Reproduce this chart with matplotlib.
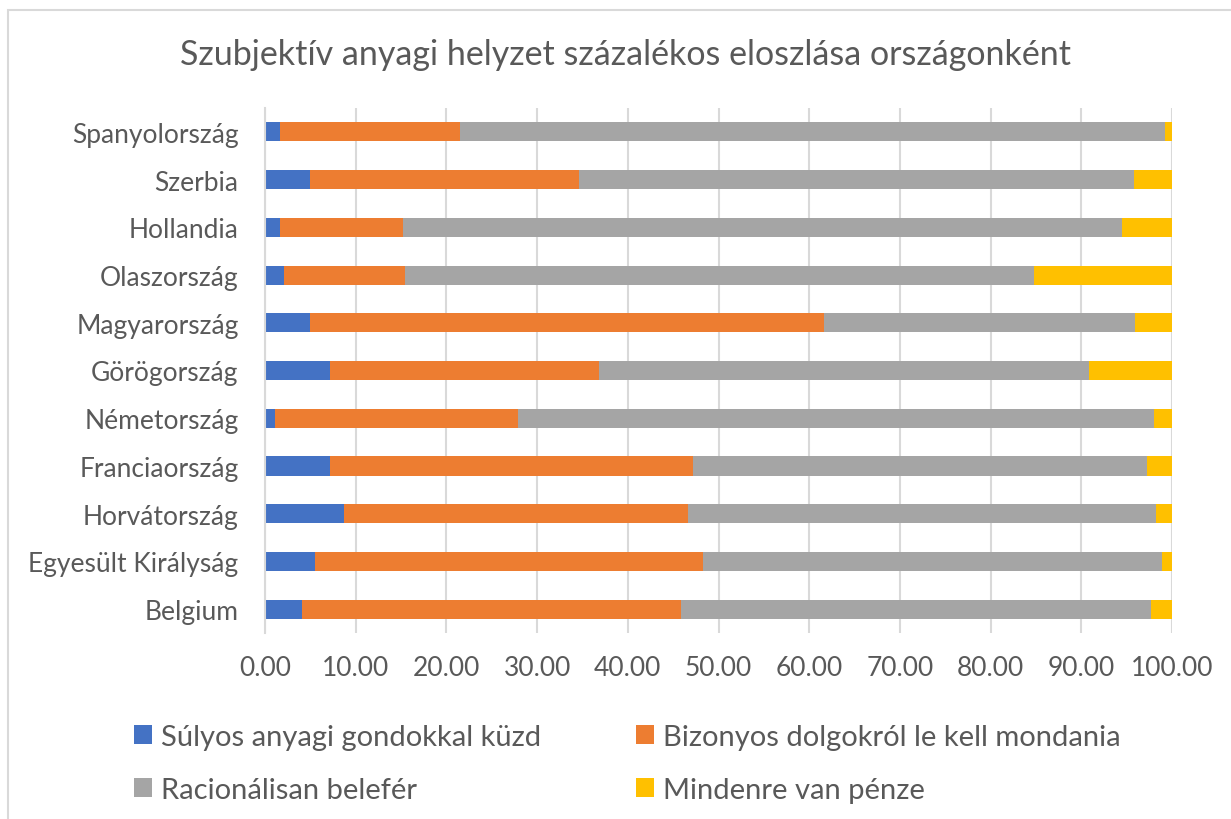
import matplotlib
matplotlib.use("Agg")
import matplotlib.pyplot as plt
from matplotlib.patches import Patch, Rectangle
import numpy as np

countries = ["Spanyolország", "Szerbia", "Hollandia", "Olaszország", "Magyarország",
             "Görögország", "Németország", "Franciaország", "Horvátország",
             "Egyesült Királyság", "Belgium"]
sulyos = [1.69, 4.93, 1.69, 2.09, 4.93, 7.20, 1.10, 7.20, 8.75, 5.48, 4.08]
bizonyos = [19.77, 29.65, 13.52, 13.31, 56.67, 29.66, 26.83, 39.99, 37.85, 42.81, 41.82]
racionalis = [77.74, 61.22, 79.29, 69.40, 34.30, 53.94, 70.12, 50.05, 51.60, 50.61, 51.75]
mindenre = [0.80, 4.20, 5.50, 15.20, 4.10, 9.20, 1.95, 2.76, 1.80, 1.10, 2.35]

series_names = ["Súlyos anyagi gondokkal küzd", "Bizonyos dolgokról le kell mondania",
                "Racionálisan belefér", "Mindenre van pénze"]
colors = ["#4472C4", "#ED7D31", "#A5A5A5", "#FFC000"]
title = "Szubjektív anyagi helyzet százalékos eloszlása országonként"
xticks = [0, 10, 20, 30, 40, 50, 60, 70, 80, 90, 100]

plt.rcParams['font.family'] = ['Lato', 'DejaVu Sans']
txt = "#595959"
grid = "#D9D9D9"

W, H = 1231, 820
fig = plt.figure(figsize=(W / 100, H / 100), dpi=100)
ax = fig.add_axes([265 / W, 1 - 634 / H, (1172 - 265) / W, (634 - 109) / H])

y = np.arange(len(countries))
data = [sulyos, bizonyos, racionalis, mindenre]
left = np.zeros(len(countries))
handles = []
for vals, name, c in zip(data, series_names, colors):
    ax.barh(y, vals, left=left, height=0.4, color=c, label=name, zorder=3)
    left += np.array(vals)
    handles.append(Patch(facecolor=c, label=name))

ax.set_ylim(len(countries) - 0.5, -0.5)
ax.set_xlim(0, 100)
ax.set_yticks(y)
ax.set_yticklabels(countries, fontsize=19, color=txt)
ax.set_xticks(xticks)
ax.set_xticklabels([f"{v:.2f}" for v in xticks], fontsize=19, color=txt)
ax.tick_params(axis='both', length=0)
ax.tick_params(axis='y', pad=19)
ax.tick_params(axis='x', pad=16)
ax.grid(axis='x', color=grid, linewidth=1.5, zorder=0)
for s in ["top", "right", "bottom"]:
    ax.spines[s].set_visible(False)
ax.spines["left"].set_color(grid)
ax.spines["left"].set_linewidth(1.5)
ax.spines["left"].set_zorder(4)

fig.text(626 / W, 1 - 55 / H, title, ha='center', va='center', fontsize=24.5, color=txt)

legend_kw = dict(loc='upper left', frameon=False, fontsize=21, labelcolor=txt,
                 handlelength=0.62, handleheight=0.62, handletextpad=0.3,
                 labelspacing=0.91, borderpad=0, borderaxespad=0)
leg1 = fig.legend([handles[0], handles[2]], [series_names[0], series_names[2]],
                  bbox_to_anchor=(134 / W, 1 - 725 / H), **legend_kw)
leg2 = fig.legend([handles[1], handles[3]], [series_names[1], series_names[3]],
                  bbox_to_anchor=(636 / W, 1 - 725 / H), **legend_kw)

fig.patches.append(Rectangle((8 / W, -0.1), 1.2, (1 - 11 / H) + 0.1, transform=fig.transFigure,
                             fill=False, edgecolor=grid, linewidth=1.5, zorder=0))

fig.savefig("out.png", dpi=100)
